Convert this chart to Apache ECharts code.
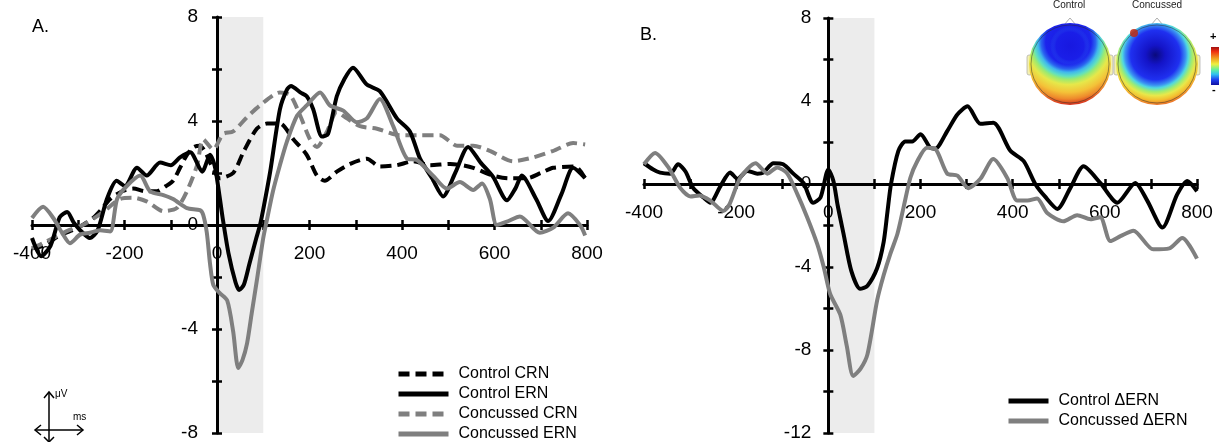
<!DOCTYPE html>
<html>
<head>
<meta charset="utf-8">
<script src="https://cdn.jsdelivr.net/npm/echarts@6/dist/echarts.min.js"></script>
<style>
  html, body { margin: 0; padding: 0; background: #fff; }
  #main { width: 1223px; height: 442px; }
</style>
</head>
<body>
<div id="main"></div>
<script>
// ---- panel A: grand averages (ms, µV) ----
var ctrlCrnMs = [-400,-376,-340,-300,-268,-250,-231,-205,-181,-155,-130,-110,-95,-80,-65,-50,-37,-25,-15,0,6,35,57,86,108,136,165,194,216,233,259,288,324,352,389,424,460,504,530,554,597,630,670,700,727,774,796];
var ctrlCrnUv = [-0.9,-0.8,-0.4,-0.1,0.27,0.6,1.0,1.3,1.4,1.3,1.3,1.5,1.7,2.2,2.7,3.0,3.05,2.8,2.4,1.9,1.8,2.0,2.8,3.7,3.9,3.9,3.3,2.7,1.9,1.7,2.05,2.35,2.55,2.25,2.3,2.45,2.3,2.35,2.3,2.2,1.9,1.8,1.8,2.0,2.2,2.25,1.8];

var ctrlErnMs = [-400,-380,-360,-340,-324,-310,-296,-275,-258,-238,-217,-199,-173,-152,-123,-100,-80,-58,-32,-15,-4,12,25,40,48,58,70,85,93,100,115,136,151,160,180,194,208,227,240,259,275,294,324,352,389,417,439,465,489,515,543,570,597,627,645,659,690,716,745,770,796];
var ctrlErnUv = [-0.5,-1.2,-0.8,0.3,0.5,0.1,-0.2,-0.5,-0.2,1.0,1.7,1.5,2.2,1.9,2.4,2.3,2.6,2.8,2.05,2.7,2.2,0.3,-1.1,-2.2,-2.5,-2.3,-1.5,-0.5,0.0,0.6,2.05,4.45,5.2,5.35,5.1,4.95,4.45,3.4,3.5,4.95,5.6,6.05,5.4,5.15,4.1,3.6,2.55,1.8,1.1,2.0,3.0,2.4,1.85,0.95,1.4,1.9,1.0,0.15,1.2,2.2,1.8];

var concCrnMs = [-400,-376,-354,-320,-290,-246,-210,-181,-151,-116,-87,-65,-43,-30,-8,13,35,65,93,136,158,180,201,216,238,259,281,309,346,396,439,482,519,554,590,640,684,727,770,796];
var concCrnUv = [-0.9,-0.7,-0.5,-0.2,0.0,0.5,1.0,1.05,0.9,0.53,0.65,1.3,2.3,3.3,2.9,3.5,3.6,4.15,4.6,5.1,5.0,4.2,3.3,3.0,3.6,4.35,4.1,3.8,3.7,3.45,3.45,3.45,3.05,3.05,2.85,2.45,2.6,2.85,3.15,3.1];

var concErnMs = [-400,-376,-354,-335,-318,-296,-275,-253,-231,-216,-195,-166,-145,-116,-95,-65,-37,-30,-22,-15,-8,5,22,35,46,55,65,75,86,100,108,121,136,151,173,194,223,244,273,302,324,352,381,411,432,467,497,525,554,573,590,605,627,655,698,727,759,785,796];
var concErnUv = [0.27,0.7,0.27,-0.3,-0.7,-0.37,-0.3,-0.2,-0.25,1.0,1.5,1.9,1.3,1.15,1.0,0.65,0.57,0.4,-0.3,-1.5,-2.3,-2.6,-2.9,-4.1,-5.5,-5.2,-4.55,-3.4,-2.15,-0.5,0.2,1.3,2.3,3.2,4.2,4.6,5.1,4.6,4.4,3.95,4.1,4.85,3.8,2.55,2.5,1.9,1.4,1.65,1.35,1.6,1.0,0.0,0.13,0.33,-0.3,-0.1,0.45,0.0,-0.4];

// ---- panel B: difference waves (ms, µV) ----
var ctrlDeltaMs = [-400,-380,-365,-343,-326,-310,-293,-271,-256,-234,-213,-197,-176,-154,-141,-119,-98,-76,-54,-33,-17,0,11,20,33,50,69,85,106,120,128,136,152,167,182,200,221,232,258,280,302,330,358,395,424,449,470,497,525,554,590,627,666,692,725,757,779,800];
var ctrlDeltaUv = [1.0,0.7,0.55,0.5,0.95,0.6,-0.2,-0.65,-0.9,-0.1,0.55,0.25,0.63,0.5,0.55,1.0,0.95,0.5,0.05,-0.9,-0.65,0.7,0.15,-1.0,-2.4,-4.2,-5.05,-4.9,-4.05,-2.8,-1.4,0.0,1.6,2.05,2.05,2.4,1.75,1.7,2.55,3.35,3.75,2.9,2.95,1.6,1.1,0.0,-0.6,-1.2,-0.2,0.85,0.05,-0.9,0.05,-0.8,-2.1,-0.5,0.15,-0.35];

var concDeltaMs = [-400,-376,-347,-321,-299,-280,-256,-228,-215,-191,-158,-132,-111,-89,-67,-46,-24,-10,4,26,40,54,70,85,106,120,134,150,163,178,193,214,232,258,280,304,330,358,388,410,432,453,475,510,540,569,590,612,635,662,705,740,768,800];
var concDeltaUv = [0.95,1.5,0.8,-0.2,-0.6,-0.55,-0.8,-1.3,-1.0,0.3,1.0,0.5,0.8,0.5,-0.5,-1.6,-2.9,-4.0,-5.3,-6.3,-7.8,-9.25,-8.9,-8.2,-5.6,-4.4,-3.4,-2.4,-1.15,0.3,1.1,1.75,1.7,0.5,0.4,-0.2,0.25,1.2,0.3,-0.8,-0.8,-0.7,-1.4,-1.8,-1.5,-1.7,-1.6,-2.75,-2.5,-2.25,-3.15,-3.1,-2.6,-3.6];

var legendA = ['Control CRN', 'Control ERN', 'Concussed CRN', 'Concussed ERN'];
var legendB = ['Control ΔERN', 'Concussed ΔERN'];

var FONT = '"Liberation Sans", Arial, Helvetica, sans-serif';
var GRAY = '#7f7f7f';

var gridA = { left: 32, top: 17, width: 555, height: 416, outerBoundsMode: 'none', containLabel: false };
var gridB = { left: 644, top: 18, width: 553, height: 415, outerBoundsMode: 'none', containLabel: false };
var msRange = [-400, 800];

function pairs(t, v) {
    return t.map(function (x, i) { return [x, v[i]]; });
}

// axes sit on the zero line of the other axis: shift them inward by the zero position
function zeroShift(size, lo, hi) {
    return -size * (0 - lo) / (hi - lo);
}

function xAxes(g, grid, yLo, yHi) {
    var off = zeroShift(grid.height, yLo, yHi);
    var base = {
        type: 'value', gridIndex: g, min: msRange[0], max: msRange[1], interval: 100,
        position: 'bottom', offset: off, z: 3,
        axisLine: { onZero: false, lineStyle: { color: '#000', width: 3 } },
        axisTick: { show: true, length: 5, lineStyle: { color: '#000', width: 2.5 } },
        axisLabel: {
            margin: 19, fontSize: 19, color: '#000', fontFamily: FONT,
            formatter: function (v) { return v % 200 === 0 ? String(v) : ''; }
        },
        splitLine: { show: false }
    };
    var inner = {
        type: 'value', gridIndex: g, min: msRange[0], max: msRange[1], interval: 100,
        position: 'bottom', offset: off, z: 3,
        axisLine: { onZero: false, show: false },
        axisTick: { show: true, inside: true, length: 5, lineStyle: { color: '#000', width: 2.5 } },
        axisLabel: { show: false },
        splitLine: { show: false }
    };
    return [base, inner];
}

function yAxes(g, grid, lo, hi, margin) {
    var off = zeroShift(grid.width, msRange[0], msRange[1]);
    var base = {
        type: 'value', gridIndex: g, min: lo, max: hi, interval: 2,
        position: 'left', offset: off, z: 3,
        axisLine: { onZero: false, lineStyle: { color: '#000', width: 3 } },
        axisTick: { show: true, length: 5, lineStyle: { color: '#000', width: 2.5 } },
        axisLabel: {
            margin: margin, fontSize: 19, color: '#000', fontFamily: FONT,
            formatter: function (v) { return v % 4 === 0 ? String(v) : ''; }
        },
        splitLine: { show: false }
    };
    var inner = {
        type: 'value', gridIndex: g, min: lo, max: hi, interval: 2,
        position: 'left', offset: off, z: 3,
        axisLine: { onZero: false, show: false },
        axisTick: { show: true, inside: true, length: 5, lineStyle: { color: '#000', width: 2.5 } },
        axisLabel: { show: false },
        splitLine: { show: false }
    };
    return [base, inner];
}

function line(name, data, xi, yi, color, dashed) {
    return {
        name: name, type: 'line', xAxisIndex: xi, yAxisIndex: yi,
        data: data, showSymbol: false, symbol: 'none', smooth: 0.25, z: 4,
        lineStyle: { color: color, width: 4, type: dashed ? [11, 6] : 'solid' },
        itemStyle: { color: color }
    };
}

function shade(xi, yi) {
    return {
        type: 'line', xAxisIndex: xi, yAxisIndex: yi, data: [], z: 1, silent: true,
        markArea: {
            silent: true,
            itemStyle: { color: '#ececec' },
            data: [[{ xAxis: 0 }, { xAxis: 100 }]]
        }
    };
}

function head(cx, gx, gy, gr, stops) {
    return [
        { type: 'rect', shape: { x: cx - 43, y: 55, width: 5, height: 20, r: 2 }, style: { fill: '#f4f0b0', stroke: '#aaa', lineWidth: 0.7 } },
        { type: 'rect', shape: { x: cx + 38, y: 55, width: 5, height: 20, r: 2 }, style: { fill: '#f4f0b0', stroke: '#aaa', lineWidth: 0.7 } },
        { type: 'polyline', shape: { points: [[cx - 6, 25], [cx, 18], [cx + 6, 25]] }, style: { stroke: '#999', lineWidth: 0.8, fill: null } },
        {
            type: 'circle', shape: { cx: cx, cy: 64, r: 41 },
            style: { fill: new echarts.graphic.RadialGradient(gx, gy, gr, stops) }
        }
    ];
}

function outline(cx) {
    return { type: 'circle', shape: { cx: cx, cy: 64, r: 39 }, style: { fill: null, stroke: 'rgba(40,40,40,0.6)', lineWidth: 0.8 } };
}

var ctrlStops = [
    { offset: 0, color: '#1818e0' }, { offset: 0.35, color: '#1c24ec' },
    { offset: 0.42, color: '#2a64f0' }, { offset: 0.47, color: '#40b8ec' },
    { offset: 0.53, color: '#60e0c0' }, { offset: 0.58, color: '#9cea70' },
    { offset: 0.66, color: '#e6e84a' }, { offset: 0.78, color: '#f4c238' },
    { offset: 0.88, color: '#ee8a2c' }, { offset: 0.97, color: '#d8321e' }
];
var concStops = [
    { offset: 0, color: '#0a0a7c' }, { offset: 0.18, color: '#1414c8' },
    { offset: 0.45, color: '#1f30f0' }, { offset: 0.55, color: '#3a90f2' },
    { offset: 0.6, color: '#50d8e0' }, { offset: 0.67, color: '#a0ec70' },
    { offset: 0.74, color: '#e8e84a' }, { offset: 0.82, color: '#f4c030' },
    { offset: 0.9, color: '#ee7a28' }, { offset: 1, color: '#d02a1a' }
];

var graphics = [
    { type: 'text', left: 32, top: 18, style: { text: 'A.', font: '18px ' + FONT, fill: '#000' } },
    { type: 'text', left: 640, top: 26, style: { text: 'B.', font: '18px ' + FONT, fill: '#000' } },
    // µV / ms scale arrows
    { type: 'line', shape: { x1: 49, y1: 392, x2: 49, y2: 442 }, style: { stroke: '#000', lineWidth: 1.5 } },
    { type: 'polyline', shape: { points: [[44, 398], [49, 392], [54, 398]] }, style: { stroke: '#000', lineWidth: 1.5, fill: null } },
    { type: 'polyline', shape: { points: [[44, 437], [49, 442], [54, 437]] }, style: { stroke: '#000', lineWidth: 1.5, fill: null } },
    { type: 'line', shape: { x1: 35, y1: 430, x2: 83, y2: 430 }, style: { stroke: '#000', lineWidth: 1.5 } },
    { type: 'polyline', shape: { points: [[41, 425], [35, 430], [41, 435]] }, style: { stroke: '#000', lineWidth: 1.5, fill: null } },
    { type: 'polyline', shape: { points: [[77, 425], [83, 430], [77, 435]] }, style: { stroke: '#000', lineWidth: 1.5, fill: null } },
    { type: 'text', left: 55, top: 389, style: { text: 'μV', font: '10px ' + FONT, fill: '#000' } },
    { type: 'text', left: 73, top: 412, style: { text: 'ms', font: '10px ' + FONT, fill: '#000' } },
    // topographic maps
    { type: 'text', left: 1053, top: 0, style: { text: 'Control', font: '10px ' + FONT, fill: '#222' } },
    { type: 'text', left: 1132, top: 0, style: { text: 'Concussed', font: '10px ' + FONT, fill: '#222' } },
    {
        type: 'rect', shape: { x: 1211, y: 47, width: 8, height: 38 },
        style: {
            fill: new echarts.graphic.LinearGradient(0, 0, 0, 1, [
                { offset: 0, color: '#a01010' }, { offset: 0.12, color: '#f03010' },
                { offset: 0.3, color: '#f0a020' }, { offset: 0.45, color: '#f0f040' },
                { offset: 0.6, color: '#60f0a0' }, { offset: 0.72, color: '#30c0f0' },
                { offset: 0.86, color: '#2040f0' }, { offset: 1, color: '#1010a0' }
            ])
        }
    },
    { type: 'text', left: 1210, top: 31, style: { text: '+', font: 'bold 11px ' + FONT, fill: '#000' } },
    { type: 'text', left: 1212, top: 84, style: { text: '-', font: 'bold 11px ' + FONT, fill: '#000' } }
].concat(head(1070, 0.48, 0.23, 0.79, ctrlStops))
 .concat([{
     type: 'ellipse', shape: { cx: 1070, cy: 46, rx: 20, ry: 25 },
     style: {
         fill: new echarts.graphic.RadialGradient(0.5, 0.5, 0.5, [
             { offset: 0, color: 'rgba(24,24,224,1)' }, { offset: 0.7, color: 'rgba(26,30,232,0.9)' },
             { offset: 1, color: 'rgba(40,90,240,0)' }
         ])
     }
 }, outline(1070)])
 .concat(head(1157, 0.48, 0.39, 0.67, concStops))
 .concat([outline(1157), { type: 'circle', shape: { cx: 1134, cy: 33, r: 4 }, style: { fill: 'rgba(190,40,20,0.85)' } }]);

var myChart = echarts.init(document.getElementById('main'));
var option = {
    animation: false,
    backgroundColor: '#fff',
    textStyle: { fontFamily: FONT },
    grid: [gridA, gridB],
    xAxis: xAxes(0, gridA, -8, 8).concat(xAxes(1, gridB, -12, 8)),
    yAxis: yAxes(0, gridA, -8, 8, 19).concat(yAxes(1, gridB, -12, 8, 17)),
    legend: [
        {
            data: legendA, orient: 'vertical', left: 396, top: 366, padding: 0, height: 90,
            itemWidth: 50, itemHeight: 14, itemGap: 4,
            itemStyle: { opacity: 0 }, lineStyle: { width: 5 },
            textStyle: { fontSize: 16, color: '#000', fontFamily: FONT, padding: [0, 0, 0, 5] }
        },
        {
            data: legendB, orient: 'vertical', left: 1006, top: 393, padding: 0, height: 60,
            itemWidth: 40, itemHeight: 14, itemGap: 4,
            itemStyle: { opacity: 0 }, lineStyle: { width: 5 },
            textStyle: { fontSize: 16, color: '#000', fontFamily: FONT, padding: [0, 0, 0, 5] }
        }
    ],
    series: [
        shade(0, 0),
        line(legendA[0], pairs(ctrlCrnMs, ctrlCrnUv), 0, 0, '#000', true),
        line(legendA[2], pairs(concCrnMs, concCrnUv), 0, 0, GRAY, true),
        line(legendA[1], pairs(ctrlErnMs, ctrlErnUv), 0, 0, '#000', false),
        line(legendA[3], pairs(concErnMs, concErnUv), 0, 0, GRAY, false),
        shade(2, 2),
        line(legendB[0], pairs(ctrlDeltaMs, ctrlDeltaUv), 2, 2, '#000', false),
        line(legendB[1], pairs(concDeltaMs, concDeltaUv), 2, 2, GRAY, false)
    ],
    graphic: graphics
};
myChart.setOption(option);
</script>
</body>
</html>
